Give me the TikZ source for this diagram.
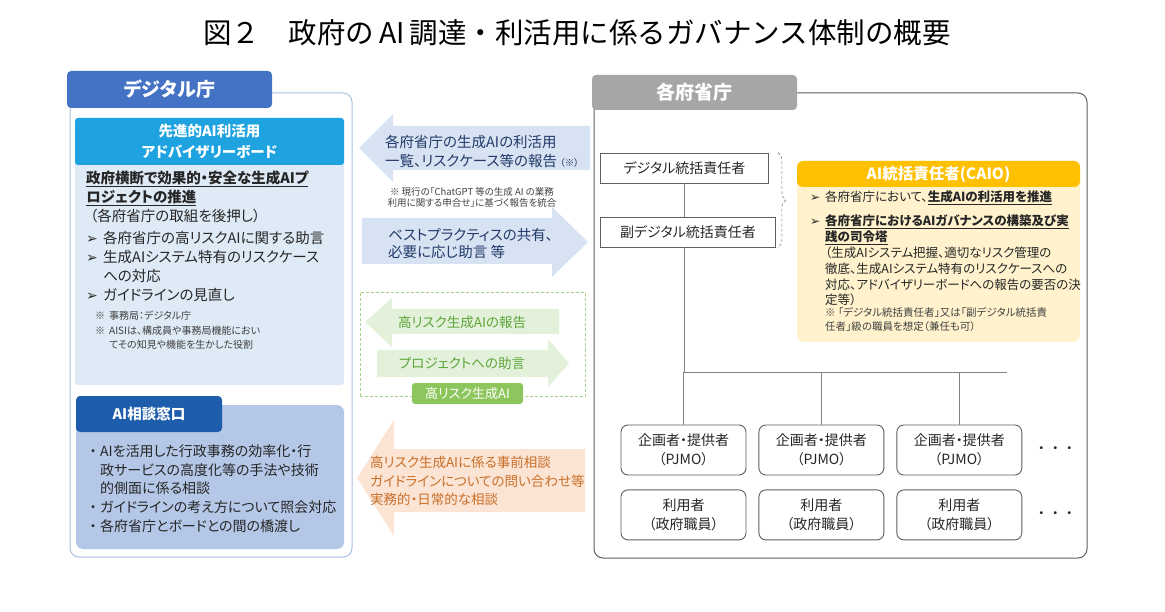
\documentclass[tikz,border=0pt]{standalone}
\usepackage{fontspec}
\setmainfont[CharacterWidth=AlternateProportional]{Noto Sans CJK JP}
\newfontfamily\titlefont{Noto Sans CJK JP}
\newfontfamily\symfont{DejaVu Sans}
\usepackage{tikz}
\usetikzlibrary{positioning, decorations.pathreplacing}

\definecolor{tabblue}{HTML}{4472C4}
\definecolor{paleedge}{HTML}{A9C1E3}
\definecolor{skyblue}{HTML}{1FA3E0}
\definecolor{paleblue}{HTML}{DEEAF6}
\definecolor{deepblue}{HTML}{1D5DAC}
\definecolor{greyblue}{HTML}{B4C7E7}
\definecolor{bluearrow}{HTML}{D7E3F2}
\definecolor{navytext}{HTML}{23396A}
\definecolor{greenarrow}{HTML}{E3F0DA}
\definecolor{greentext}{HTML}{5EA63A}
\definecolor{greenline}{HTML}{A9D18E}
\definecolor{leafgreen}{HTML}{8DC65C}
\definecolor{orangearrow}{HTML}{FBE4D4}
\definecolor{orangetext}{HTML}{C96F28}
\definecolor{tabgray}{HTML}{A6A6A6}
\definecolor{darkedge}{HTML}{5F5F5F}
\definecolor{linkgray}{HTML}{808080}
\definecolor{gold}{HTML}{FFC000}
\definecolor{cream}{HTML}{FFF2CC}
\definecolor{txtgray}{HTML}{262626}
\definecolor{notegray}{HTML}{404040}

\newcommand{\arrbul}[2]{\makebox[#1][l]{\symfont\bfseries\fontsize{#2}{#2}\selectfont ➢}}
\newcommand{\dotbul}{\makebox[14pt][c]{・}}

\begin{document}
\begin{tikzpicture}[
    x=1pt, y=-1pt,
    every node/.style={inner sep=0pt, text=txtgray},
    panel/.style={draw, rounded corners=9pt, line width=1pt},
    tab/.style={rounded corners=4pt, text=white, font=\bfseries\fontsize{19}{19}\selectfont},
    role/.style={draw=darkedge, fill=white, line width=0.9pt, minimum height=30pt, anchor=west, font=\fontsize{14}{16}\selectfont},
    unit/.style={draw=darkedge, fill=white, rounded corners=7pt, line width=0.9pt, minimum width=125pt, minimum height=50pt, align=center, font=\fontsize{14}{19}\selectfont},
    link/.style={draw=linkgray, line width=0.7pt},
    bracemark/.style={draw=linkgray, densely dashed, line width=0.6pt},
    bluearr/.style={fill=bluearrow},
    greenarr/.style={fill=greenarrow},
    orangearr/.style={fill=orangearrow},
]
\useasboundingbox (0,0) rectangle (1165,612);

% Title
\node[text=black, font=\titlefont\fontsize{28.5}{28.5}\selectfont] (title) at (577,33) {図２\hspace{1em}政府の\,AI\,調達・利活用に係るガバナンス体制の概要};

% Digital Agency panel
\node[panel, draw=paleedge, fill=white, minimum width=282pt, minimum height=464pt] (dpanel) at (211,325) {};
\node[tab, fill=tabblue, minimum width=205pt, minimum height=37pt] (dtab) at (169.5,89.5) {デジタル庁};

% Advisory board
\node[fill=paleblue, rounded corners=3pt, minimum width=269pt, minimum height=267pt] (board) at (209.5,251.5) {};
\node[fill=skyblue, rounded corners=3pt, minimum width=269pt, minimum height=47pt, align=center, text=white, font=\bfseries\fontsize{14.5}{21}\selectfont] (boardhead) at (209.5,141.5) {先進的AI利活用\\アドバイザリーボード};
\node[anchor=west, align=left, font=\fontsize{14.5}{19}\selectfont] (boardtxt) at (86,236) {%
\textbf{\underline{政府横断で効果的・安全な生成AIプ}}\\
\textbf{\underline{ロジェクトの推進}}\\
\hspace{4pt}（各府省庁の取組を後押し）\\[3pt]
\arrbul{17pt}{14}各府省庁の高リスクAIに関する助言\\
\arrbul{17pt}{14}生成AIシステム特有のリスクケース\\
\hspace{17pt}への対応\\
\arrbul{17pt}{14}ガイドラインの見直し};
\node[anchor=west, align=left, text=notegray, font=\fontsize{10}{14.5}\selectfont] (boardnote) at (95,330.5) {%
※\hspace{4pt}事務局：デジタル庁\\
※\hspace{4pt}AISIは、構成員や事務局機能におい\\
\hspace{14pt}てその知見や機能を生かした役割};

% AI consultation desk
\node[fill=greyblue, rounded corners=7pt, minimum width=268pt, minimum height=144pt] (consult) at (210,477) {};
\node[fill=deepblue, rounded corners=4pt, minimum width=146pt, minimum height=36pt, text=white, font=\bfseries\fontsize{14.5}{14.5}\selectfont] (consulttab) at (149,414) {AI相談窓口};
\node[anchor=west, align=left, font=\fontsize{14}{18.8}\selectfont] (consulttxt) at (86,488.5) {%
\dotbul AIを活用した行政事務の効率化・行\\
\hspace{14pt}政サービスの高度化等の手法や技術\\
\hspace{14pt}的側面に係る相談\\
\dotbul ガイドラインの考え方について照会対応\\
\dotbul 各府省庁とボードとの間の橋渡し};

% Blue arrows
\fill[bluearr] (359,148) -- (393,114) -- (393,126) -- (590,126) -- (590,170) -- (393,170) -- (393,182) -- cycle;
\fill[bluearr] (362,218) -- (552,218) -- (552,207) -- (588,242) -- (552,277) -- (552,264) -- (362,264) -- cycle;
\node[anchor=west, align=left, text=navytext, font=\fontsize{14.5}{19}\selectfont] (reporttxt) at (385,151) {各府省庁の生成AIの利活用\\一覧、リスクケース等の報告\hspace{3pt}{\fontsize{9.5}{9.5}\selectfont（※）}};
\node[align=center, text=notegray, font=\fontsize{9.5}{11.5}\selectfont] (reportnote) at (472,197.5) {※ 現行の「ChatGPT 等の生成 AI の業務\\利用に関する申合せ」に基づく報告を統合};
\node[anchor=west, align=left, text=navytext, font=\fontsize{14.5}{17.5}\selectfont] (advicetxt) at (388,243.5) {ベストプラクティスの共有、\\必要に応じ助言 等};

% High-risk generative AI
\node[draw=greenline, densely dashed, line width=0.7pt, minimum width=225pt, minimum height=104pt] (riskframe) at (472.5,344.5) {};
\fill[greenarr] (365,322) -- (392,298) -- (392,309) -- (559,309) -- (559,334) -- (392,334) -- (392,347) -- cycle;
\fill[greenarr] (377,350) -- (548,350) -- (548,339) -- (569,363) -- (548,387) -- (548,377) -- (377,377) -- cycle;
\node[text=greentext, font=\fontsize{13.5}{13.5}\selectfont] (riskreport) at (462,322) {高リスク生成AIの報告};
\node[text=greentext, font=\fontsize{13.5}{13.5}\selectfont] (riskadvice) at (462,363) {プロジェクトへの助言};
\node[fill=leafgreen, rounded corners=3pt, minimum width=111pt, minimum height=21pt, text=white, font=\fontsize{13}{13}\selectfont] (risklabel) at (467.5,393.5) {高リスク生成AI};

% Orange arrow
\fill[orangearr] (357,478) -- (394,420) -- (394,449) -- (585,449) -- (585,512) -- (394,512) -- (394,536) -- cycle;
\node[anchor=west, align=left, text=orangetext, font=\fontsize{13.5}{18.5}\selectfont] (consultreq) at (370,481) {高リスク生成AIに係る事前相談\\ガイドラインについての問い合わせ等\\実務的・日常的な相談};

% Ministries panel
\node[panel, draw=darkedge, fill=white, minimum width=493pt, minimum height=465pt] (mpanel) at (840.5,325.5) {};
\node[tab, fill=tabgray, minimum width=205pt, minimum height=35pt] (mtab) at (694.5,92.5) {各府省庁};

% Officers
\node[role, minimum width=168pt] (dig) at (600,168) {デジタル統括責任者};
\node[role, minimum width=175pt] (subdig) at (600,232) {副デジタル統括責任者};
\draw[bracemark, decorate, decoration={brace, amplitude=8pt}] ([xshift=2pt]subdig.east |- dig.north) -- ([xshift=2pt]subdig.south east);

% CAIO
\node[fill=cream, rounded corners=7pt, minimum width=283pt, minimum height=181pt] (caio) at (938.5,251.5) {};
\node[fill=gold, rounded corners=6pt, minimum width=283pt, minimum height=26pt, text=white, font=\bfseries\fontsize{15.5}{15.5}\selectfont] (caiohead) at (938.5,174) {AI統括責任者(CAIO)};
\node[anchor=west, font=\fontsize{12.5}{12.5}\selectfont] (caiob1) at (810,198) {\arrbul{15pt}{12}各府省庁において、\textbf{\underline{生成AIの利活用を推進}}};
\node[anchor=west, align=left, font=\fontsize{12.5}{15.6}\selectfont] (caiob2) at (810,229.5) {%
\arrbul{15pt}{12}\textbf{\underline{各府省庁におけるAIガバナンスの構築及び実}}\\
\hspace{15pt}\textbf{\underline{践の司令塔}}};
\node[anchor=west, align=left, font=\fontsize{12.5}{15.6}\selectfont] (caiopar) at (825,276.5) {%
（生成AIシステム把握、適切なリスク管理の\\
徹底、生成AIシステム特有のリスクケースへの\\
対応、アドバイザリーボードへの報告の要否の決\\
定等）};
\node[anchor=west, align=left, text=notegray, font=\fontsize{10.5}{14}\selectfont] (caionote) at (825,320) {%
※ 「デジタル統括責任者」又は「副デジタル統括責\\
任者」級の職員を想定（兼任も可）};

% Project teams and users
\node[unit] (pj1) at (683.5,450) {企画者・提供者\\（PJMO）};
\node[unit, right=12pt of pj1] (pj2) {企画者・提供者\\（PJMO）};
\node[unit, right=12pt of pj2] (pj3) {企画者・提供者\\（PJMO）};
\node[unit, below=14pt of pj1] (us1) {利用者\\（政府職員）};
\node[unit, below=14pt of pj2] (us2) {利用者\\（政府職員）};
\node[unit, below=14pt of pj3] (us3) {利用者\\（政府職員）};
\node[font=\titlefont\fontsize{14}{14}\selectfont, right=12pt of pj3] (pjmore) {・・・};
\node[font=\titlefont\fontsize{14}{14}\selectfont, right=12pt of us3] (usmore) {・・・};

% Reporting lines
\coordinate (hline) at (0,372);
\coordinate (lineend) at (1007,372);
\draw[link] (dig.south) -- (dig.south |- subdig.north);
\draw[link] (dig.south |- subdig.south) -- (dig.south |- hline) -- (lineend);
\draw[link] (pj1.north |- hline) -- (pj1.north);
\draw[link] (pj2.north |- hline) -- (pj2.north);
\draw[link] (pj3.north |- hline) -- (pj3.north);

\end{tikzpicture}
\end{document}
